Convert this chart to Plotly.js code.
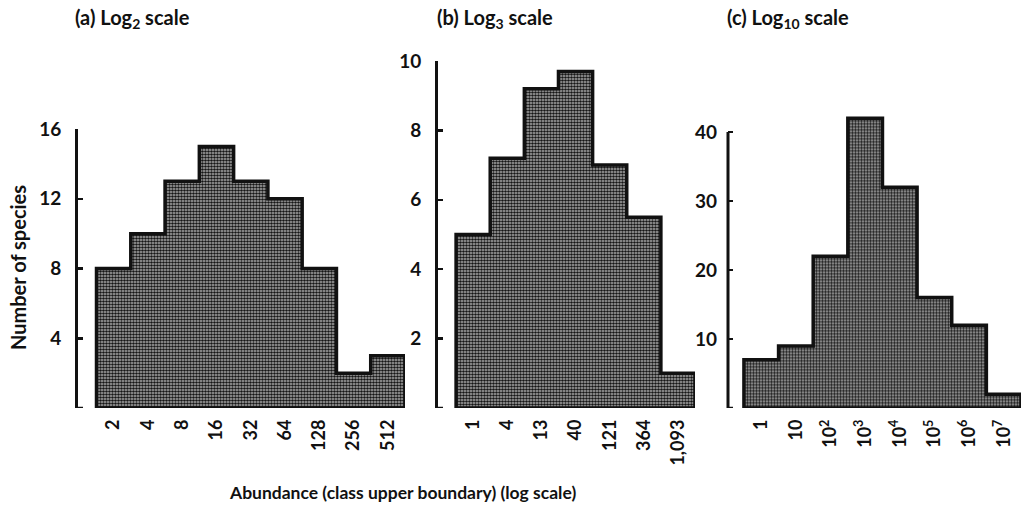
<!DOCTYPE html>
<html><head><meta charset="utf-8">
<script src="https://cdn.plot.ly/plotly-3.0.1.min.js"></script>
<style>html,body{margin:0;padding:0;background:#fff}</style>
</head><body><div id="chart" style="width:1022px;height:508px"></div>
<script>
// ---- data ----
const log2Labels = ['2','4','8','16','32','64','128','256','512'];
const log2Counts = [8, 10, 13, 15, 13, 12, 8, 2, 3];

const log3Labels = ['1','4','13','40','121','364','1,093'];
const log3Counts = [5, 7.2, 9.2, 9.7, 7, 5.5, 1];

const log10Labels = ['1','10','10<sup>2</sup>','10<sup>3</sup>','10<sup>4</sup>','10<sup>5</sup>','10<sup>6</sup>','10<sup>7</sup>'];
const log10Counts = [7, 9, 22, 42, 32, 16, 12, 2];

const panelTitles = ['(a) Log<sub>2</sub> scale', '(b) Log<sub>3</sub> scale', '(c) Log<sub>10</sub> scale'];
const yTicksA = [4, 8, 12, 16];
const yTicksB = [2, 4, 6, 8, 10];
const yTicksC = [10, 20, 30, 40];

// ---- styling ----
const W = 1022, H = 508;
const px = v => v / W;
const py = v => 1 - v / H;
const FONT = {family: 'Lato, "Open Sans", "DejaVu Sans", sans-serif', color: '#111', weight: 'bold'};
const INK = '#111';

function idx(n){ return Array.from({length:n}, (_, i) => i); }

function barTrace(counts, xa, ya){
  return {
    type: 'bar', x: idx(counts.length), y: counts, width: 1,
    xaxis: xa, yaxis: ya, showlegend: false, hoverinfo: 'skip',
    marker: {
      color: '#a8a8a8',
      line: {width: 0},
      pattern: {shape: '.', fgcolor: '#161616', bgcolor: '#b4b4b4', size: 3, solidity: 0.6}
    }
  };
}
function outlineTrace(counts, xa, ya){
  const n = counts.length;
  const xs = [-0.5], ys = [0];
  for (let i = 0; i < n; i++){ xs.push(i - 0.5); ys.push(counts[i]); }
  xs.push(n - 0.5); ys.push(0);
  xs.push(-0.5); ys.push(0);
  return {
    type: 'scatter', mode: 'lines', x: xs, y: ys, xaxis: xa, yaxis: ya,
    line: {shape: 'hv', color: INK, width: 3.5}, showlegend: false, hoverinfo: 'skip'
  };
}

function xAxis(labels, dom, rng){
  return {
    domain: dom, range: rng, tickmode: 'array', tickvals: idx(labels.length), ticktext: labels,
    tickangle: -90, showline: false, showgrid: false, zeroline: false, ticks: '',
    tickfont: Object.assign({size: 18}, FONT), ticklabelstandoff: 7, fixedrange: true
  };
}
function yAxis(vals, dom, rng, anchor, showline){
  return {
    domain: dom, range: rng, anchor: anchor, tickmode: 'array', tickvals: vals,
    ticktext: vals.map(String),
    showline: showline, linecolor: INK, linewidth: 3, ticks: 'inside', ticklen: 5, tickwidth: 2.5, tickcolor: INK,
    showgrid: false, zeroline: false, tickfont: Object.assign({size: 19}, FONT), ticklabelstandoff: 10, fixedrange: true
  };
}

// domains in pixels
const domA = [78, 405], domB = [438, 695], domC = [728, 1021];
function zeroTick(xd, yname, dom){
  const frac = 5 / (dom[1] - dom[0]);
  return {type: 'line', xref: xd + ' domain', yref: yname, x0: 0, x1: frac, y0: 0, y1: 0, line: {color: INK, width: 2.5}};
}

const data = [
  barTrace(log2Counts, 'x', 'y'), outlineTrace(log2Counts, 'x', 'y'),
  barTrace(log3Counts, 'x2', 'y2'), outlineTrace(log3Counts, 'x2', 'y2'),
  barTrace(log10Counts, 'x3', 'y3'), outlineTrace(log10Counts, 'x3', 'y3')
];

const layout = {
  width: W, height: H, margin: {l: 0, r: 0, t: 0, b: 0},
  paper_bgcolor: '#fff', plot_bgcolor: 'rgba(0,0,0,0)', bargap: 0,
  font: FONT,
  xaxis:  xAxis(log2Labels,  [px(domA[0]), px(domA[1])], [-1.04, 8.5]),
  yaxis:  yAxis(yTicksA, [py(408), py(129)], [0, 16], 'x', true),
  xaxis2: xAxis(log3Labels,  [px(domB[0]), px(domB[1])], [-1.03, 6.5]),
  yaxis2: yAxis(yTicksB, [py(408), py(61)],  [0, 10], 'x2', true),
  xaxis3: xAxis(log10Labels, [px(domC[0]), px(domC[1])], [-0.96, 7.5]),
  yaxis3: yAxis(yTicksC, [py(408), py(104.4)], [0, 44], 'x3', false),
  shapes: [
    {type: 'line', xref: 'x3 domain', yref: 'y3', x0: 0, x1: 0, y0: 0, y1: 40, line: {color: INK, width: 3}},
    zeroTick('x', 'y', domA), zeroTick('x2', 'y2', domB), zeroTick('x3', 'y3', domC)
  ],
  annotations: [
    {text: panelTitles[0], xref: 'paper', yref: 'paper', x: px(73),  y: py(18), xanchor: 'left', yanchor: 'middle', showarrow: false, font: Object.assign({size: 20}, FONT)},
    {text: panelTitles[1], xref: 'paper', yref: 'paper', x: px(435), y: py(18), xanchor: 'left', yanchor: 'middle', showarrow: false, font: Object.assign({size: 20}, FONT)},
    {text: panelTitles[2], xref: 'paper', yref: 'paper', x: px(725), y: py(18), xanchor: 'left', yanchor: 'middle', showarrow: false, font: Object.assign({size: 20}, FONT)},
    {text: 'Number of species', xref: 'paper', yref: 'paper', x: px(18), y: py(268), xanchor: 'center', yanchor: 'middle', textangle: -90, showarrow: false, font: Object.assign({size: 20}, FONT)},
    {text: 'Abundance (class upper boundary) (log scale)', xref: 'paper', yref: 'paper', x: px(402), y: py(492), xanchor: 'center', yanchor: 'middle', showarrow: false, font: Object.assign({size: 17.5}, FONT)}
  ]
};

Plotly.newPlot('chart', data, layout, {displayModeBar: false, staticPlot: true});
</script></body></html>
